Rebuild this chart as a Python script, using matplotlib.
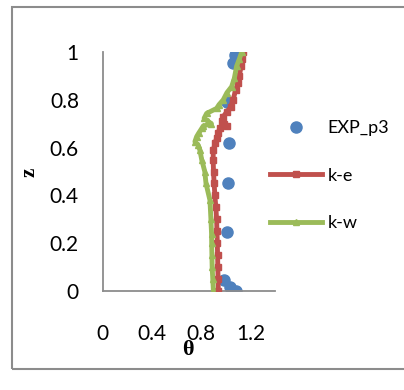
import matplotlib.pyplot as plt
from matplotlib.patches import Rectangle

# measured temperature ratio along height
exp_theta = [1.075, 1.061, 1.007, 1.028, 1.02, 1.007, 0.985, 1.034, 1.083]
exp_z = [0.987, 0.953, 0.792, 0.618, 0.453, 0.248, 0.046, 0.018, 0.001]

# k-epsilon model profile
ke_z = [0.0, 0.05, 0.1, 0.15, 0.2, 0.25, 0.3, 0.35, 0.4, 0.45, 0.5, 0.55, 0.59,
        0.62, 0.64, 0.66, 0.68, 0.69, 0.70, 0.71, 0.73, 0.75, 0.77, 0.80, 0.84,
        0.87, 0.90, 0.94, 0.97, 1.0]
ke_theta = [0.94, 0.938, 0.936, 0.934, 0.932, 0.929, 0.926, 0.92, 0.912, 0.906,
            0.901, 0.898, 0.899, 0.915, 0.926, 0.94, 0.95, 1.01, 0.99, 0.97,
            0.98, 1.01, 1.04, 1.06, 1.08, 1.10, 1.11, 1.125, 1.13, 1.14]

# k-omega model profile
kw_z = [0.0, 0.05, 0.1, 0.15, 0.2, 0.24, 0.3, 0.38, 0.45, 0.5, 0.55, 0.59,
        0.61, 0.625, 0.646, 0.66, 0.68, 0.69, 0.70, 0.71, 0.723, 0.743, 0.764,
        0.78, 0.80, 0.83, 0.855, 0.89, 0.94, 0.97, 1.0]
kw_theta = [0.90, 0.895, 0.89, 0.888, 0.886, 0.885, 0.88, 0.872, 0.84, 0.83,
            0.805, 0.79, 0.777, 0.75, 0.764, 0.78, 0.805, 0.817, 0.884, 0.857,
            0.825, 0.845, 0.926, 0.946, 0.98, 1.01, 1.048, 1.07, 1.088, 1.11, 1.13]

x_ticks = [0, 0.4, 0.8, 1.2]
y_ticks = [0, 0.2, 0.4, 0.6, 0.8, 1]

plt.rcParams['font.family'] = ['Lato', 'DejaVu Sans']

fig = plt.figure(figsize=(4.04, 3.9), dpi=100)
ax = fig.add_axes([102.5 / 404, 1 - 291 / 390, 172.5 / 404, 239 / 390])

ax.plot(exp_theta, exp_z, 'o', color='#4F81BD', markersize=8, label='EXP_p3', zorder=2)
ax.plot(ke_theta, ke_z, '-s', color='#C0504D', lw=3.5, markersize=4, label='k-e', zorder=3)
ax.plot(kw_theta, kw_z, '-^', color='#9BBB59', lw=3.5, markersize=4, label='k-w', zorder=4)

ax.set_xlim(0, 1.4)
ax.set_ylim(0, 1)
ax.set_xticks(x_ticks)
ax.set_xticklabels(['0', '0.4', '0.8', '1.2'])
ax.set_yticks(y_ticks)
ax.set_yticklabels(['0', '0.2', '0.4', '0.6', '0.8', '1'])
ax.tick_params(axis='both', length=0, labelsize=15)
ax.tick_params(axis='y', pad=17)
ax.tick_params(axis='x', pad=24)
for side in ['top', 'right']:
    ax.spines[side].set_visible(False)
for side in ['left', 'bottom']:
    ax.spines[side].set_color('#8c8c8c')
    ax.spines[side].set_linewidth(1.3)
ax.patch.set_alpha(0)

leg = ax.legend(loc='upper left', bbox_to_anchor=(270 / 404, 1 - 120 / 390),
                bbox_transform=fig.transFigure, frameon=False, fontsize=13,
                borderpad=0, borderaxespad=0, handlelength=2.9, handletextpad=0.3,
                labelspacing=1.75)

fig.text(30 / 404, 1 - 172 / 390, 'z', rotation=90, ha='center', va='center',
         family='Liberation Serif', fontweight='bold', fontsize=15)
fig.text(188 / 404, 1 - 350 / 390, 'θ', ha='center', va='center',
         family='Liberation Serif', fontweight='bold', fontsize=16)
fig.text(208 / 404, -0.028, 'c', ha='center', va='baseline',
         family='Liberation Serif', fontweight='bold', fontsize=16)

# outer chart border
fig.patches.append(Rectangle((12 / 404, 1 - 369 / 390), 1.0, 362 / 390,
                             transform=fig.transFigure, fill=False,
                             edgecolor='#8c8c8c', linewidth=1.5))

fig.savefig('out.png', dpi=100)
